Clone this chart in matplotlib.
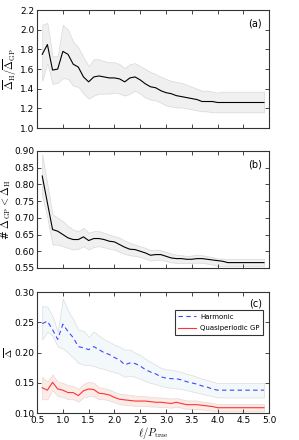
import matplotlib
matplotlib.use("Agg")
import matplotlib.pyplot as plt

plt.rcParams['mathtext.fontset'] = 'cm'
plt.rcParams['font.size'] = 6.5

ell = [0.6, 0.7, 0.8, 0.9, 1.0, 1.1, 1.2, 1.3, 1.4, 1.5, 1.6, 1.7, 1.8, 1.9, 2.0,
       2.1, 2.2, 2.3, 2.4, 2.5, 2.6, 2.7, 2.8, 2.9, 3.0, 3.1, 3.2, 3.3, 3.4, 3.5,
       3.6, 3.7, 3.8, 3.9, 4.0, 4.1, 4.2, 4.3, 4.4, 4.5, 4.6, 4.7, 4.8, 4.9]

# (a) ratio of mean errors
ratio = [1.75, 1.85, 1.59, 1.60, 1.78, 1.75, 1.65, 1.62, 1.52, 1.47, 1.52, 1.53, 1.52, 1.51, 1.51,
         1.50, 1.47, 1.51, 1.52, 1.49, 1.45, 1.42, 1.41, 1.38, 1.36, 1.35, 1.33, 1.32, 1.31, 1.30,
         1.29, 1.27, 1.27, 1.27, 1.26, 1.26, 1.26, 1.26, 1.26, 1.26, 1.26, 1.26, 1.26, 1.26]
ratio_hi = [2.05, 2.07, 1.73, 1.73, 2.05, 2.00, 1.88, 1.82, 1.72, 1.63, 1.70, 1.70, 1.68, 1.67, 1.67,
            1.65, 1.61, 1.65, 1.66, 1.63, 1.60, 1.57, 1.55, 1.52, 1.50, 1.48, 1.47, 1.46, 1.44, 1.42,
            1.40, 1.38, 1.38, 1.37, 1.36, 1.37, 1.37, 1.37, 1.37, 1.37, 1.37, 1.37, 1.37, 1.37]
ratio_lo = [1.48, 1.66, 1.45, 1.46, 1.51, 1.50, 1.43, 1.42, 1.35, 1.30, 1.33, 1.35, 1.35, 1.35, 1.36,
            1.35, 1.33, 1.35, 1.38, 1.35, 1.31, 1.29, 1.28, 1.26, 1.23, 1.22, 1.21, 1.21, 1.20, 1.19,
            1.18, 1.17, 1.17, 1.16, 1.16, 1.16, 1.16, 1.16, 1.16, 1.16, 1.16, 1.16, 1.16, 1.16]

# (b) fraction where GP beats harmonic
frac = [0.825, 0.745, 0.665, 0.660, 0.650, 0.640, 0.635, 0.635, 0.643, 0.632, 0.638, 0.638, 0.635, 0.630, 0.628,
        0.620, 0.612, 0.606, 0.605, 0.600, 0.595, 0.588, 0.590, 0.590, 0.585, 0.580, 0.578, 0.578, 0.576, 0.576,
        0.578, 0.578, 0.576, 0.574, 0.572, 0.570, 0.566, 0.566, 0.566, 0.566, 0.566, 0.566, 0.566, 0.566]
frac_hi = [0.890, 0.800, 0.710, 0.700, 0.690, 0.675, 0.665, 0.660, 0.670, 0.655, 0.660, 0.660, 0.655, 0.650, 0.645,
           0.640, 0.632, 0.625, 0.620, 0.615, 0.610, 0.603, 0.605, 0.603, 0.598, 0.593, 0.590, 0.588, 0.586, 0.587,
           0.590, 0.588, 0.585, 0.583, 0.578, 0.578, 0.577, 0.577, 0.577, 0.577, 0.577, 0.577, 0.577, 0.577]
frac_lo = [0.765, 0.700, 0.620, 0.620, 0.615, 0.610, 0.605, 0.607, 0.615, 0.605, 0.613, 0.615, 0.612, 0.607, 0.605,
           0.598, 0.592, 0.588, 0.586, 0.583, 0.578, 0.572, 0.574, 0.575, 0.570, 0.567, 0.565, 0.565, 0.564, 0.565,
           0.566, 0.565, 0.563, 0.560, 0.556, 0.556, 0.556, 0.556, 0.556, 0.556, 0.556, 0.556, 0.556, 0.556]

# (c) mean errors
harm = [0.248, 0.252, 0.238, 0.222, 0.247, 0.235, 0.225, 0.210, 0.208, 0.205, 0.210, 0.205, 0.200, 0.197, 0.192,
        0.188, 0.180, 0.183, 0.182, 0.178, 0.172, 0.168, 0.165, 0.160, 0.158, 0.157, 0.157, 0.155, 0.152, 0.150,
        0.148, 0.145, 0.143, 0.140, 0.138, 0.138, 0.138, 0.138, 0.138, 0.138, 0.138, 0.138, 0.138, 0.138]
harm_hi = [0.277, 0.276, 0.260, 0.235, 0.289, 0.270, 0.255, 0.238, 0.236, 0.226, 0.235, 0.228, 0.222, 0.218, 0.213,
           0.210, 0.205, 0.205, 0.200, 0.196, 0.190, 0.185, 0.180, 0.175, 0.172, 0.172, 0.170, 0.168, 0.165, 0.163,
           0.160, 0.157, 0.155, 0.152, 0.150, 0.150, 0.150, 0.150, 0.150, 0.150, 0.150, 0.150, 0.150, 0.150]
harm_lo = [0.222, 0.235, 0.228, 0.210, 0.207, 0.200, 0.192, 0.183, 0.180, 0.180, 0.178, 0.175, 0.173, 0.170, 0.168,
           0.165, 0.160, 0.162, 0.160, 0.157, 0.153, 0.150, 0.148, 0.145, 0.143, 0.142, 0.141, 0.140, 0.138, 0.136,
           0.134, 0.132, 0.130, 0.128, 0.126, 0.126, 0.126, 0.126, 0.126, 0.126, 0.126, 0.126, 0.126, 0.126]
qgp = [0.142, 0.138, 0.151, 0.140, 0.138, 0.134, 0.134, 0.129, 0.137, 0.140, 0.139, 0.133, 0.132, 0.130, 0.126,
       0.123, 0.122, 0.121, 0.120, 0.120, 0.120, 0.119, 0.118, 0.118, 0.117, 0.116, 0.118, 0.116, 0.114, 0.114,
       0.114, 0.113, 0.112, 0.111, 0.109, 0.109, 0.109, 0.109, 0.109, 0.109, 0.109, 0.109, 0.109, 0.109]
qgp_hi = [0.160, 0.152, 0.164, 0.152, 0.150, 0.146, 0.145, 0.140, 0.148, 0.152, 0.150, 0.143, 0.141, 0.139, 0.135,
          0.132, 0.131, 0.130, 0.129, 0.128, 0.128, 0.127, 0.126, 0.126, 0.125, 0.124, 0.125, 0.123, 0.121, 0.121,
          0.121, 0.119, 0.118, 0.117, 0.115, 0.115, 0.115, 0.115, 0.115, 0.115, 0.115, 0.115, 0.115, 0.115]
qgp_lo = [0.123, 0.123, 0.138, 0.128, 0.127, 0.123, 0.123, 0.119, 0.126, 0.128, 0.128, 0.123, 0.123, 0.121, 0.118,
          0.115, 0.114, 0.113, 0.112, 0.112, 0.112, 0.111, 0.111, 0.110, 0.110, 0.109, 0.111, 0.109, 0.107, 0.107,
          0.107, 0.106, 0.105, 0.104, 0.103, 0.103, 0.103, 0.103, 0.103, 0.103, 0.103, 0.103, 0.103, 0.103]

fig = plt.figure(figsize=(2.99, 4.40), dpi=100)
ax1 = fig.add_axes([0.124, 0.709, 0.776, 0.268])
ax2 = fig.add_axes([0.124, 0.391, 0.776, 0.266])
ax3 = fig.add_axes([0.124, 0.061, 0.776, 0.275])

for ax in (ax1, ax2, ax3):
    ax.set_xlim(0.5, 5.0)
    ax.set_xticks([0.5, 1.0, 1.5, 2.0, 2.5, 3.0, 3.5, 4.0, 4.5, 5.0])
    ax.tick_params(direction='in', top=True, right=True, length=3, width=0.5, labelsize=6.5, pad=2)
    for s in ax.spines.values():
        s.set_linewidth(0.8)
        s.set_color('#333333')

ax1.fill_between(ell, ratio_lo, ratio_hi, facecolor='#f0f0f0', edgecolor='#d8d8d8', linewidth=0.5)
ax1.plot(ell, ratio, color='k', linewidth=0.8)
ax1.set_ylim(1.0, 2.2)
ax1.set_yticks([1.0, 1.2, 1.4, 1.6, 1.8, 2.0, 2.2])
ax1.set_ylabel(r'$\overline{\Delta}_{\rm H}/\overline{\Delta}_{\rm GP}$', fontsize=7.5, labelpad=1)
ax1.tick_params(labelbottom=False)
ax1.text(0.97, 0.93, '(a)', transform=ax1.transAxes, ha='right', va='top', fontsize=7)

ax2.fill_between(ell, frac_lo, frac_hi, facecolor='#f0f0f0', edgecolor='#d8d8d8', linewidth=0.5)
ax2.plot(ell, frac, color='k', linewidth=0.8)
ax2.set_ylim(0.55, 0.90)
ax2.set_yticks([0.55, 0.60, 0.65, 0.70, 0.75, 0.80, 0.85, 0.90])
ax2.set_ylabel(r'# $\Delta_{\rm GP} < \Delta_{\rm H}$', fontsize=7.5, labelpad=1)
ax2.tick_params(labelbottom=False)
ax2.text(0.97, 0.93, '(b)', transform=ax2.transAxes, ha='right', va='top', fontsize=7)

ax3.fill_between(ell, harm_lo, harm_hi, facecolor='#f3f8fb', edgecolor='#dcdcdc', linewidth=0.5)
ax3.fill_between(ell, qgp_lo, qgp_hi, facecolor='#fbece8', edgecolor='#ead6d2', linewidth=0.5)
ax3.plot(ell, harm, color='#4444ff', linestyle='--', dashes=(4, 3), linewidth=0.8, label='Harmonic')
ax3.plot(ell, qgp, color='#ff3333', linewidth=0.8, label='Quasiperiodic GP')
ax3.set_ylim(0.10, 0.30)
ax3.set_yticks([0.10, 0.15, 0.20, 0.25, 0.30])
ax3.set_ylabel(r'$\overline{\Delta}$', fontsize=7)
ax3.yaxis.set_label_coords(-0.095, 0.5)
ax3.set_xlabel(r'$\ell/P_{\rm true}$', fontsize=7.5, labelpad=0)
ax3.text(0.97, 0.95, '(c)', transform=ax3.transAxes, ha='right', va='top', fontsize=7)
leg = ax3.legend(loc='upper right', bbox_to_anchor=(0.99, 0.88), fontsize=5, frameon=True,
                 fancybox=False, edgecolor='k', handlelength=2.6, borderpad=0.5, labelspacing=0.8,
                 handletextpad=0.6)
leg.get_frame().set_linewidth(0.8)

fig.savefig('out.png', dpi=100)
